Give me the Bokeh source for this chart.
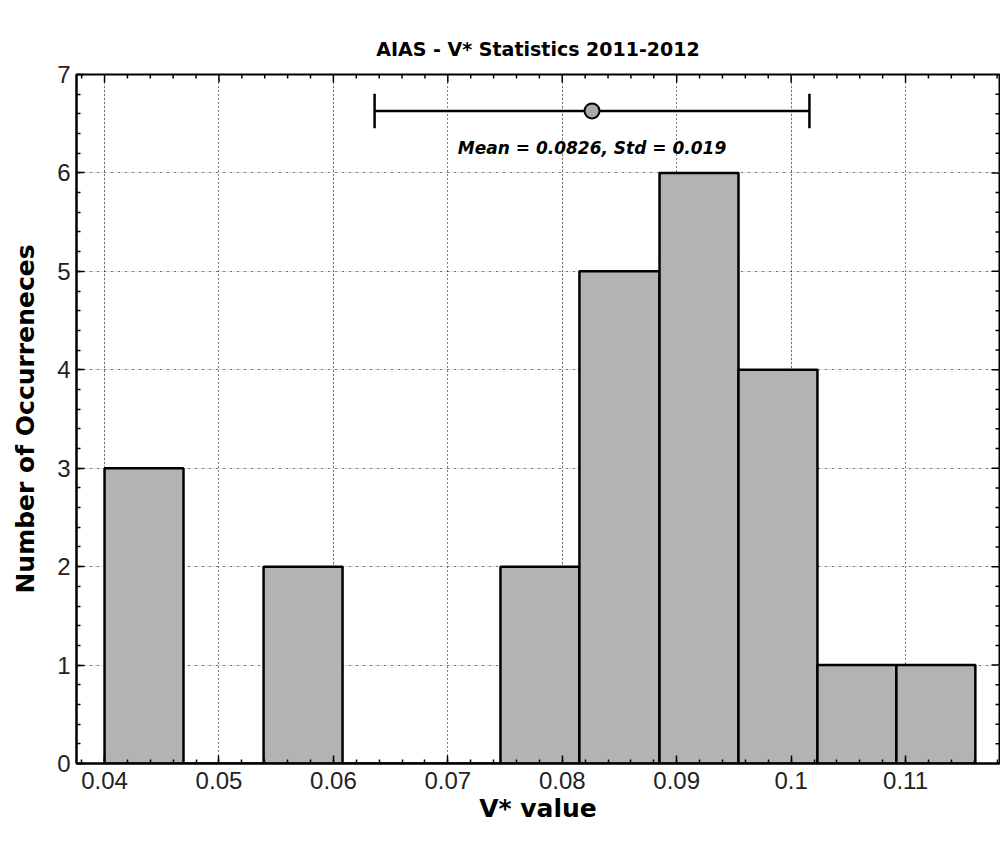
import numpy as np
from bokeh.plotting import figure
from bokeh.models import (LinearAxis, SingleIntervalTicker, NumeralTickFormatter,
                          Range1d, ColumnDataSource, Grid)
from bokeh.embed import file_html
from bokeh.resources import INLINE
from bokeh.core.properties import value

# Histogram of V* values, 2011-2012
bin_left = [0.0400, 0.0469, 0.0539, 0.0608, 0.0677, 0.0746, 0.0815, 0.0885, 0.0954, 0.1023, 0.1092]
bin_right = [0.0469, 0.0539, 0.0608, 0.0677, 0.0746, 0.0815, 0.0885, 0.0954, 0.1023, 0.1092, 0.1161]
counts = [3, 0, 2, 0, 0, 2, 5, 6, 4, 1, 1]

# Summary statistics shown as a horizontal error bar
mean_v = 0.0826
std_v = 0.019
stat_y = 6.63

TICK_FONT = "Liberation Sans"
BOLD_FONT = "DejaVu Sans"

X0, X1 = 0.03755, 0.11821
Y0, Y1 = 0, 7
FRAME_W, FRAME_H = 923, 689

p = figure(width=1000, height=849, output_backend="svg", toolbar_location=None,
           x_range=Range1d(X0, X1), y_range=Range1d(Y0, Y1),
           min_border_left=76, min_border_right=1, min_border_top=74, min_border_bottom=86,
           x_axis_location=None, y_axis_location=None)

p.title.text = "AIAS - V* Statistics 2011-2012"
p.title.align = "center"
p.title.text_font = BOLD_FONT
p.title.text_font_style = "bold"
p.title.text_font_size = "19px"
p.title.text_color = "black"
p.title.standoff = 29

p.outline_line_color = "black"
p.outline_line_width = 2
p.background_fill_color = "white"
p.border_fill_color = "white"


def make_axis(kind):
    if kind == "x":
        ticker = SingleIntervalTicker(interval=0.01, num_minor_ticks=5)
        fmt = NumeralTickFormatter(format="0.0[0]")
    else:
        ticker = SingleIntervalTicker(interval=1, num_minor_ticks=5)
        fmt = NumeralTickFormatter(format="0")
    ax = LinearAxis(ticker=ticker, formatter=fmt)
    ax.axis_line_color = "black"
    ax.axis_line_width = 2
    ax.major_tick_in = 8
    ax.major_tick_out = 0
    ax.minor_tick_in = 4
    ax.minor_tick_out = 0
    ax.major_tick_line_width = 1.5
    ax.minor_tick_line_width = 1.5
    ax.major_tick_line_color = "black"
    ax.minor_tick_line_color = "black"
    ax.major_label_text_font = TICK_FONT
    ax.major_label_text_font_size = "24px"
    ax.major_label_text_color = "#222222"
    ax.axis_label_text_font = BOLD_FONT
    ax.axis_label_text_font_style = "bold"
    ax.axis_label_text_font_size = "25px"
    ax.axis_label_text_color = "black"
    return ax


xb = make_axis("x")
xb.axis_label = "V* value"
xb.axis_label_standoff = 2
xb.major_label_standoff = 8
p.add_layout(xb, "below")

yl = make_axis("y")
yl.axis_label = "Number of Occurreneces"
yl.axis_label_standoff = 14
yl.major_label_standoff = 6
p.add_layout(yl, "left")

p.add_layout(Grid(dimension=0, ticker=xb.ticker, grid_line_color="black",
                  grid_line_dash="1 3", grid_line_width=1))
p.add_layout(Grid(dimension=1, ticker=yl.ticker, grid_line_color="black",
                  grid_line_dash="1 6", grid_line_width=1))

# Inward tick marks along the top and right frame edges
px_y = (Y1 - Y0) / FRAME_H
px_x = (X1 - X0) / FRAME_W
top_ticks = np.round(np.arange(0.038, X1, 0.002), 4)
top_len = np.where(np.isclose(np.round(top_ticks * 100) / 100, top_ticks), 8, 4) * px_y
p.segment(x0=top_ticks, y0=[Y1] * len(top_ticks), x1=top_ticks, y1=Y1 - top_len,
          line_color="black", line_width=1.5)
right_ticks = np.round(np.arange(0.2, Y1, 0.2), 1)
right_len = np.where(np.isclose(np.round(right_ticks), right_ticks), 8, 4) * px_x
p.segment(x0=[X1] * len(right_ticks), y0=right_ticks, x1=X1 - right_len, y1=right_ticks,
          line_color="black", line_width=1.5)

src = ColumnDataSource(dict(left=bin_left, right=bin_right, top=counts,
                            bottom=[0] * len(counts)))
p.quad(left="left", right="right", top="top", bottom="bottom", source=src,
       fill_color="#b3b3b3", line_color="black", line_width=2.5)

# Error bar: mean +/- one standard deviation
lo, hi = mean_v - std_v, mean_v + std_v
cap = 0.175
p.segment(x0=[lo], y0=[stat_y], x1=[hi], y1=[stat_y], line_color="black", line_width=2.5)
p.segment(x0=[lo, hi], y0=[stat_y - cap] * 2, x1=[lo, hi], y1=[stat_y + cap] * 2,
          line_color="black", line_width=2.5)
p.scatter(x=[mean_v], y=[stat_y], size=15, fill_color="#aaaaaa", line_color="black",
          line_width=2)

p.text(x=[mean_v], y=[stat_y - 0.38], text=[f"Mean = {mean_v}, Std = {std_v}"],
       text_font=value(BOLD_FONT), text_font_style="bold italic", text_font_size="17px",
       text_align="center", text_baseline="middle", text_color="black")

open("out.html", "w").write(file_html(p, INLINE))
